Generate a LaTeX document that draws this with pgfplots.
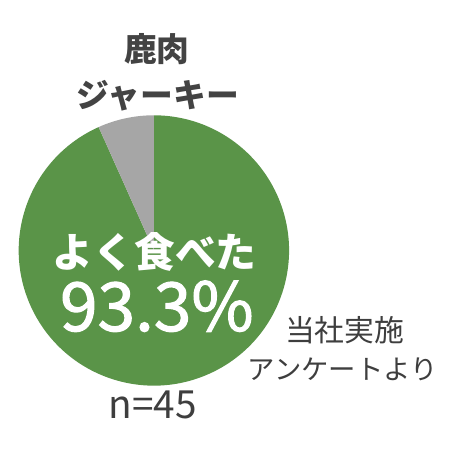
\documentclass[border=0pt]{standalone}
\usepackage{pgfplots}
\pgfplotsset{compat=1.18}
\usepackage{pgfplotstable}
\usepackage{fontspec}
\newfontfamily\jp{Noto Sans CJK JP}
\newfontfamily\jpmed{Noto Sans CJK JP}[FakeBold=1.6]

\definecolor{pieGreen}{HTML}{5A9448}
\definecolor{pieGray}{HTML}{A6A6A6}
\definecolor{labelDark}{HTML}{434343}
\definecolor{noteGray}{HTML}{3E3E3E}

% share of answers, percent
\pgfplotstableread{
label value
ate 93.3
other 6.7
}\piedata

\pgfplotstablegetelem{1}{value}\of\piedata
\pgfmathsetmacro\splitangle{90+3.6*\pgfplotsretval}

\begin{document}
\begin{tikzpicture}
  \begin{axis}[
    x=1pt, y=1pt,
    xmin=0, xmax=460, ymin=0, ymax=460,
    hide axis, clip=false, scale only axis,
    ]
    \path (axis cs:0,0) rectangle (axis cs:460,460);
    % slices, starting at 12 o'clock
    \fill[pieGreen] (axis cs:152,208) -- ++(\splitangle:136pt)
      arc[start angle=\splitangle, end angle=450, radius=136pt] -- cycle;
    \fill[pieGray] (axis cs:152,208) -- ++(90:136pt)
      arc[start angle=90, end angle=\splitangle, radius=136pt] -- cycle;

    \node[text=labelDark, font=\jp\bfseries\fontsize{33}{36}\selectfont]
      at (axis cs:155,411) {鹿肉};
    \node[text=labelDark, font=\jp\bfseries\fontsize{33}{36}\selectfont]
      at (axis cs:156,364) {ジャーキー};
    \node[text=white, font=\jp\bfseries\fontsize{41}{44}\selectfont,
      inner sep=0pt, text height=34pt, text depth=4pt]
      at (axis cs:153,206) {よく食べた};
    \node[text=white, font=\jpmed\fontsize{68}{72}\selectfont,
      inner sep=0pt, text height=50pt, text depth=0pt, anchor=base]
      at (axis cs:155,127) {93.3\%};
    \node[text=noteGray, font=\jp\fontsize{30}{34}\selectfont]
      at (axis cs:344,128) {当社実施};
    \node[text=noteGray, font=\jp\fontsize{27.5}{30}\selectfont]
      at (axis cs:342,88) {アンケートより};
    \node[text=noteGray, font=\jp\fontsize{39}{42}\selectfont]
      at (axis cs:151,53) {n=45};
  \end{axis}
\end{tikzpicture}
\end{document}
